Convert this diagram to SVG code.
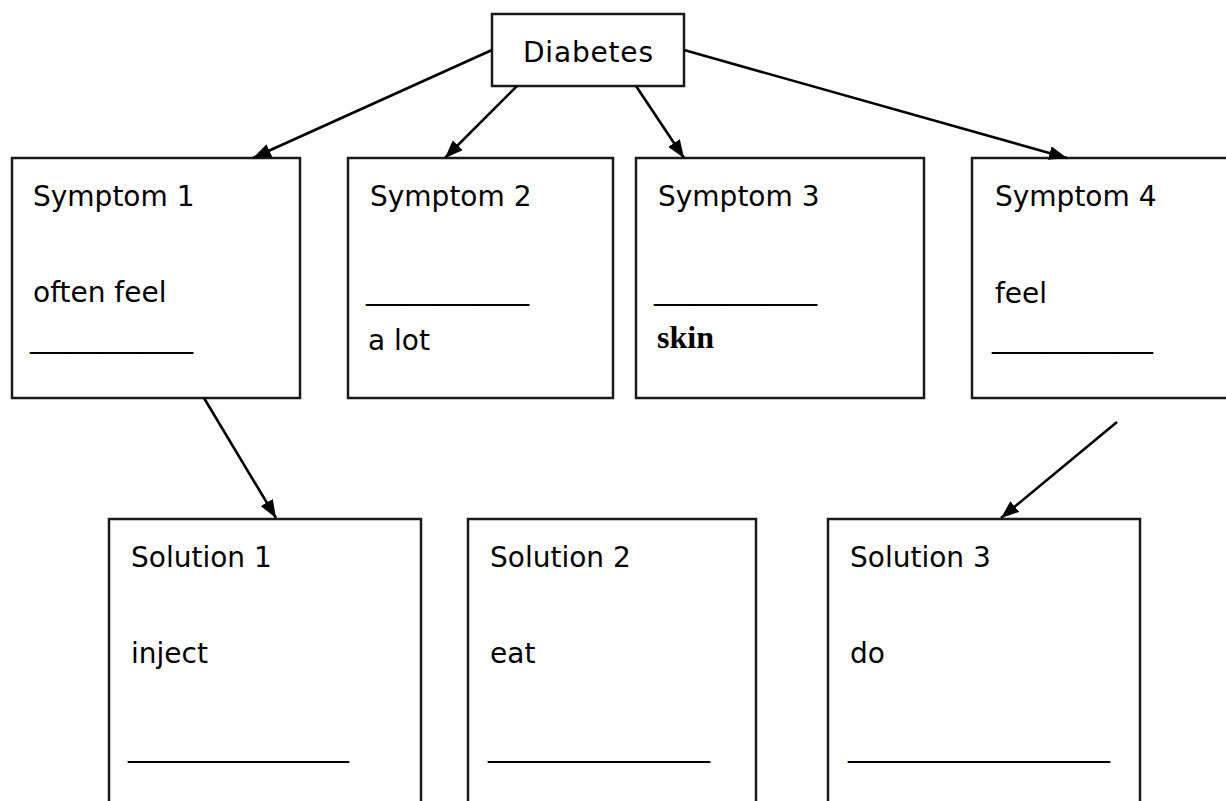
<svg xmlns="http://www.w3.org/2000/svg" width="1226" height="801" viewBox="0 0 1226 801">
<style>
.box{fill:#fff;stroke:#1a1a1a;stroke-width:2.5}
.t{font-family:"DejaVu Sans","Liberation Sans",sans-serif;font-size:28px;fill:#000}
.sk{font-family:"Liberation Serif","Times New Roman",serif;font-size:32px;font-weight:bold;fill:#000}
.c{stroke:#000;stroke-width:2.6;fill:none;marker-end:url(#ah)}
</style>
<defs>
<marker id="ah" markerUnits="userSpaceOnUse" viewBox="0 0 18 14" refX="18" refY="7" markerWidth="18" markerHeight="14" orient="auto">
<path d="M0,0 L18,7 L0,14 z" fill="#000"/>
</marker>
</defs>
<rect width="1226" height="801" fill="#fff"/>
<g id="diabetes">
<rect class="box" x="492" y="14" width="192" height="72"/>
<text class="t" x="523" y="62" textLength="130">Diabetes</text>
</g>
<g id="symptom1">
<rect class="box" x="12" y="158" width="288" height="240"/>
<text class="t" x="33" y="206">Symptom 1</text>
<text class="t" x="33" y="302">often feel</text>
<text class="t" x="30" y="347" textLength="163" lengthAdjust="spacingAndGlyphs">_________</text>
</g>
<g id="symptom2">
<rect class="box" x="348" y="158" width="265" height="240"/>
<text class="t" x="370" y="206">Symptom 2</text>
<text class="t" x="366" y="299" textLength="163" lengthAdjust="spacingAndGlyphs">_________</text>
<text class="t" x="368" y="350">a lot</text>
</g>
<g id="symptom3">
<rect class="box" x="636" y="158" width="288" height="240"/>
<text class="t" x="658" y="206">Symptom 3</text>
<text class="t" x="654" y="299" textLength="163" lengthAdjust="spacingAndGlyphs">_________</text>
<text class="sk" x="657" y="348">skin</text>
</g>
<g id="symptom4">
<rect class="box" x="972" y="158" width="260" height="240"/>
<text class="t" x="995" y="206">Symptom 4</text>
<text class="t" x="995" y="303">feel</text>
<text class="t" x="992" y="347" textLength="161" lengthAdjust="spacingAndGlyphs">_________</text>
</g>
<g id="solution1">
<rect class="box" x="109" y="519" width="312" height="300"/>
<text class="t" x="131" y="567">Solution 1</text>
<text class="t" x="131" y="663">inject</text>
<text class="t" x="128" y="756" textLength="221" lengthAdjust="spacingAndGlyphs">____________</text>
</g>
<g id="solution2">
<rect class="box" x="468" y="519" width="288" height="300"/>
<text class="t" x="490" y="567">Solution 2</text>
<text class="t" x="490" y="663">eat</text>
<text class="t" x="488" y="756" textLength="222" lengthAdjust="spacingAndGlyphs">____________</text>
</g>
<g id="solution3">
<rect class="box" x="828" y="519" width="312" height="300"/>
<text class="t" x="850" y="567">Solution 3</text>
<text class="t" x="850" y="663">do</text>
<text class="t" x="848" y="756" textLength="262" lengthAdjust="spacingAndGlyphs">______________</text>
</g>
<g id="connectors">
<line class="c" x1="492" y1="50" x2="253" y2="158"/>
<line class="c" x1="517" y1="86" x2="445" y2="158"/>
<line class="c" x1="636" y1="86" x2="684" y2="158"/>
<line class="c" x1="684" y1="50" x2="1067" y2="158"/>
<line class="c" x1="204" y1="398" x2="276" y2="518"/>
<line class="c" x1="1117" y1="422" x2="1001" y2="518"/>
</g>
</svg>
